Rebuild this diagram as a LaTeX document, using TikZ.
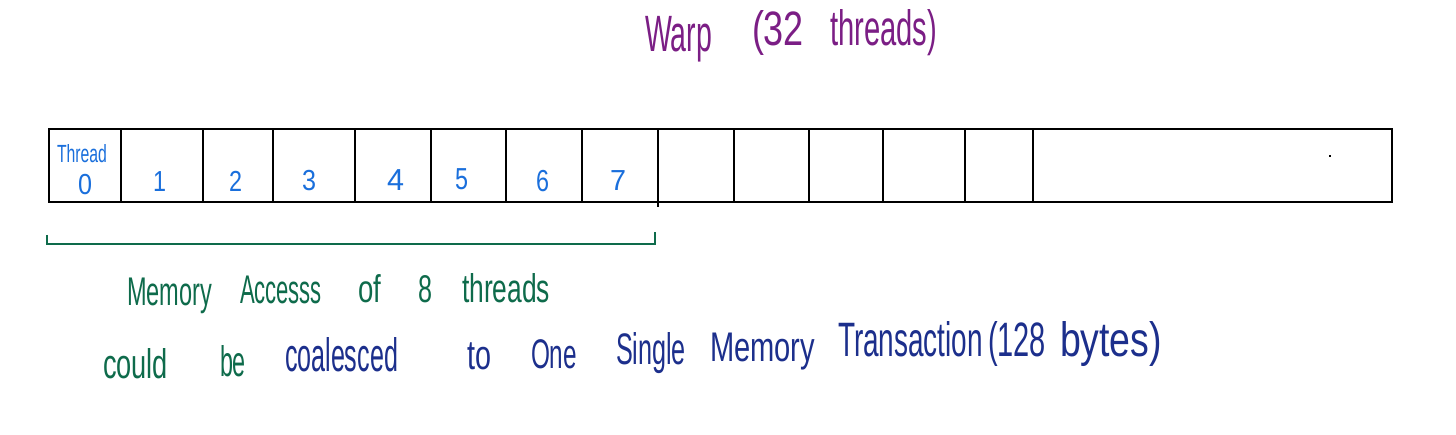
\documentclass[tikz,border=0pt]{standalone}
\usepackage{fontspec}
\setmainfont{Liberation Sans}
\usepackage{graphicx}
\definecolor{warppurple}{HTML}{7B1E85}
\definecolor{cellblue}{HTML}{1A6FDC}
\definecolor{handgreen}{HTML}{0E6B4B}
\definecolor{handnavy}{HTML}{1C2F8C}
\newcommand\hwword[3]{\resizebox{#1pt}{#2pt}{\vphantom{Hdl}#3}}
\tikzset{
  word/.style={inner sep=0pt, outer sep=0pt, anchor=base west},
  frame/.style={draw=black, line width=1.7pt},
  divider/.style={draw=black, line width=1.7pt},
  bracketline/.style={draw=handgreen, line width=2pt},
}
\begin{document}
\begin{tikzpicture}[x=1pt,y=-1pt]
\useasboundingbox (0,0) rectangle (1456,435);
\fill[white] (0,0) rectangle (1456,435);

% title
\node[word, text=warppurple] (t1) at (645,52) {\hwword{67}{37}{Warp}};
\node[word, text=warppurple] (t2) at (752,46) {\hwword{52}{35}{(32}};
\node[word, text=warppurple] (t3) at (830,46) {\hwword{107}{36}{threads)}};

% warp box
\draw[frame] (49,129) rectangle (1392,202);
\foreach \xx in {121,203,273,355,431,506,582,734,809,883,965,1033}
  \draw[divider] (\xx,129) -- (\xx,202);
\draw[divider] (658,129) -- (658,207);
\fill[black] (1329,155) rectangle (1331,157);

% cell labels
\node[word, text=cellblue] (th) at (57,163) {\hwword{50}{18}{Thread}};
\node[word, text=cellblue] (c0) at (78,195) {\hwword{14}{21}{0}};
\node[word, text=cellblue] (c1) at (153,192) {\hwword{13}{21}{1}};
\node[word, text=cellblue] (c2) at (229,192) {\hwword{13}{21}{2}};
\node[word, text=cellblue] (c3) at (302,191) {\hwword{14}{21}{3}};
\node[word, text=cellblue] (c4) at (387,191) {\hwword{17}{22}{4}};
\node[word, text=cellblue] (c5) at (455,190) {\hwword{13}{22}{5}};
\node[word, text=cellblue] (c6) at (536,192) {\hwword{13}{22}{6}};
\node[word, text=cellblue] (c7) at (610,191) {\hwword{16}{21}{7}};

% bracket
\coordinate (bl) at (47,244);
\coordinate (br) at (655,244);
\draw[bracketline] (47,235) -- (bl) -- (br) -- (655,232);

% line 1
\node[word, text=handgreen] (m1) at (127,306) {\hwword{85}{29}{Memory}};
\node[word, text=handgreen] (m2) at (240,304) {\hwword{82}{29}{Accesss}};
\node[word, text=handgreen] (m3) at (358,303) {\hwword{23}{28}{of}};
\node[word, text=handgreen] (m4) at (418,303) {\hwword{14}{28}{8}};
\node[word, text=handgreen] (m5) at (462,303) {\hwword{88}{29}{threads}};

% line 2
\node[word, text=handgreen] (n1) at (103,378) {\hwword{65}{30}{could}};
\node[word, text=handgreen] (n2) at (220,376) {\hwword{26}{31}{be}};
\node[word, text=handnavy] (n3) at (285,372) {\hwword{113}{34}{coalesced}};
\node[word, text=handnavy] (n4) at (467,370) {\hwword{24}{30}{to}};
\node[word, text=handnavy] (n5) at (531,368) {\hwword{46}{30}{One}};
\node[word, text=handnavy] (n6) at (616,365) {\hwword{70}{32}{Single}};
\node[word, text=handnavy] (n7) at (710,362) {\hwword{105}{30}{Memory}};
\node[word, text=handnavy] (n8) at (838,357) {\hwword{145}{35}{Transaction}};
\node[word, text=handnavy] (n9) at (988,357) {\hwword{58}{35}{(128}};
\node[word, text=handnavy] (n10) at (1060,356) {\hwword{102}{35}{bytes)}};
\end{tikzpicture}
\end{document}
